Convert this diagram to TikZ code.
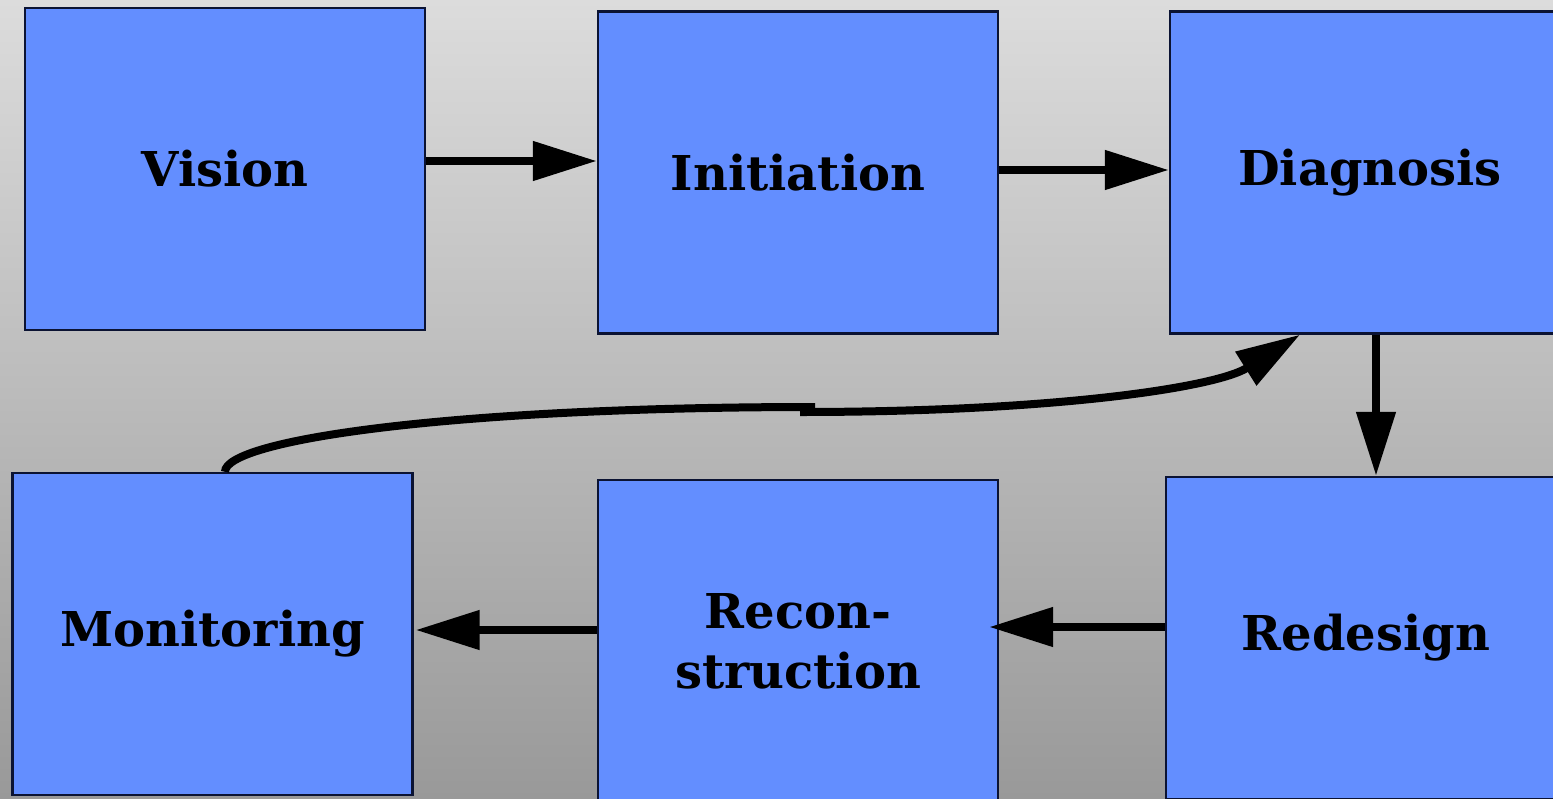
\documentclass[tikz,border=0pt]{standalone}
\usepackage{fontspec}
\setmainfont{DejaVu Serif}
\usetikzlibrary{arrows.meta}
\definecolor{boxblue}{HTML}{638EFF}
\definecolor{boxline}{HTML}{0B1333}
\definecolor{bgtop}{HTML}{DCDCDC}
\definecolor{bgbottom}{HTML}{999999}
\begin{document}
\begin{tikzpicture}[x=0.5pt,y=-0.5pt,
  stage/.style={draw=boxline, line width=1.2pt, fill=boxblue,
    minimum width=200pt, minimum height=161pt, inner sep=0pt,
    font=\fontsize{24}{30}\selectfont\bfseries, align=center},
  flow/.style={line width=4pt, -{Triangle[length=32pt,width=19pt]}},
  link/.style={line width=4pt}]
  % page and background
  \useasboundingbox (0,0) rectangle (1553,798);
  \clip (0,0) rectangle (1553,798);
  \shade[top color=bgtop, bottom color=bgbottom] (0,0) rectangle (1553,798);

  % stages
  \node[stage] (vis)  at (225,169)   {Vision};
  \node[stage] (ini)  at (798,172.5) {Initiation};
  \node[stage] (diag) at (1370,172.5){Diagnosis};
  \node[stage] (mon)  at (212.5,634) {Monitoring};
  \node[stage] (rec)  at (798,641)   {Recon-\\struction};
  \node[stage] (red)  at (1366,638)  {Redesign};

  % forward flow
  \draw[flow] (vis.east |- 0,161) -- (ini.west |- 0,161);
  \draw[flow] (ini.east |- 0,170) -- (diag.west |- 0,170);
  \draw[flow] (diag.south -| 1376,0) -- (red.north -| 1376,0);
  \draw[flow] (red.west |- 0,627) -- ([xshift=-5pt]rec.east |- 0,627);
  \draw[flow] (rec.west |- 0,630) -- ([xshift=1pt]mon.east |- 0,630);

  % feedback loop from monitoring back to diagnosis
  \coordinate (j1) at (815,407);
  \coordinate (j2) at (800,412);
  \draw[link] (mon.north -| 225,0) .. controls (225,440) and (450,407) .. (j1);
  \draw[flow] (j2) .. controls (1050,412) and (1215,388) .. (diag.south -| 1300,0);
\end{tikzpicture}
\end{document}
